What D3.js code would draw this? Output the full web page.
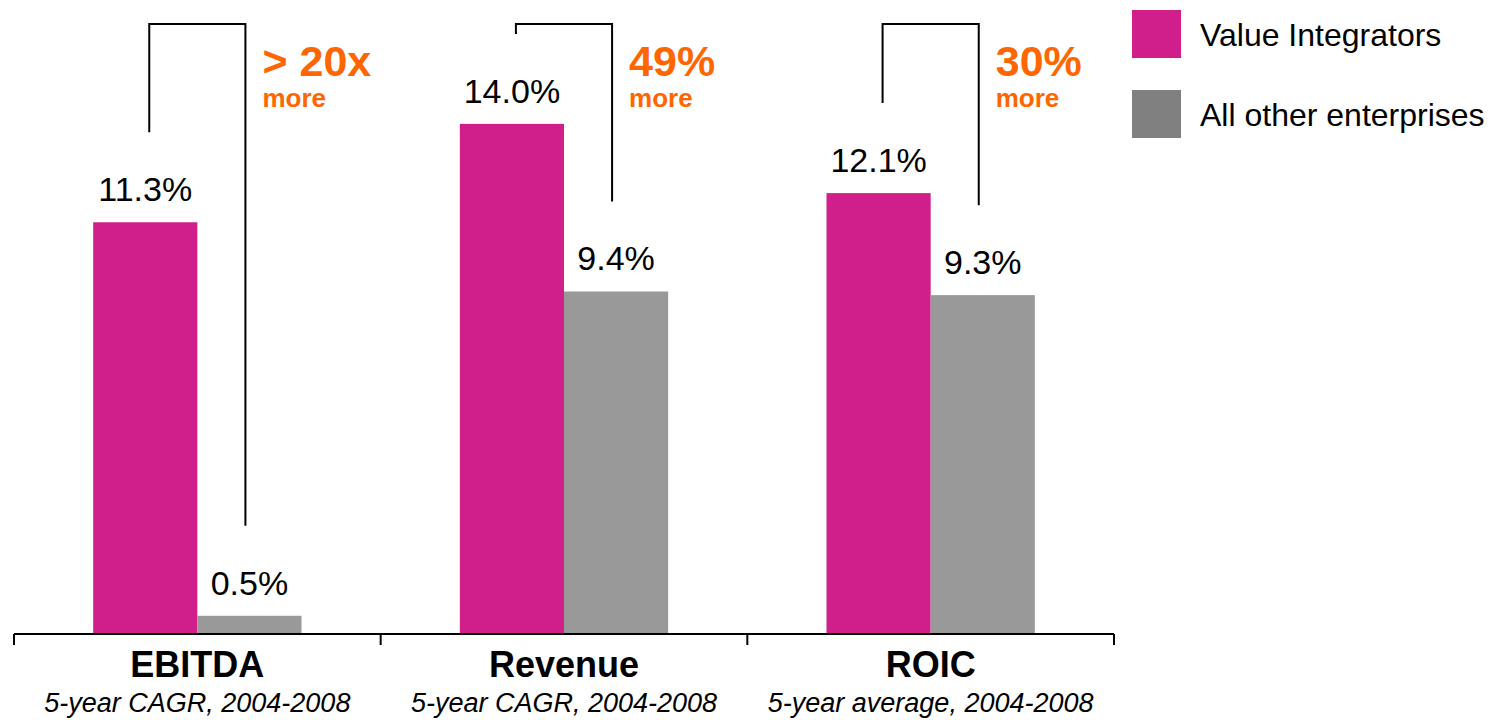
<!DOCTYPE html>
<html>
<head>
<meta charset="utf-8">
<style>
  body { margin: 0; background: #fff; }
  svg { display: block; font-family: "Liberation Sans", Arial, Helvetica, sans-serif; }
</style>
</head>
<body>
<svg width="1497" height="720"></svg>
<script src="https://d3js.org/d3.v7.min.js"></script>
<script>

var categories = ["EBITDA", "Revenue", "ROIC"];
var subtitles = ["5-year CAGR, 2004-2008", "5-year CAGR, 2004-2008", "5-year average, 2004-2008"];
var series = ["Value Integrators", "All other enterprises"];
var integrators = [11.3, 14.0, 12.1];
var others = [0.5, 9.4, 9.3];
var valueLabels = [["11.3%", "0.5%"], ["14.0%", "9.4%"], ["12.1%", "9.3%"]];
var callouts = ["> 20x", "49%", "30%"];

var barColor = ["#d01f8a", "#999999"];
var legendColor = ["#d01f8a", "#808080"];
var orange = "#ff6600";

var svg = d3.select("svg");

var x0 = d3.scaleBand()
    .domain(categories)
    .range([14, 1114])
    .padding(0);

var x1 = d3.scaleBand()
    .domain(series)
    .range([0, x0.bandwidth()])
    .paddingInner(0)
    .paddingOuter(0.76);

var y = d3.scaleLinear()
    .domain([0, 17.4])
    .range([634, 0]);

var rows = categories.map(function(c, i) {
  return { cat: c, sub: subtitles[i], vals: [integrators[i], others[i]], labels: valueLabels[i], callout: callouts[i] };
});

var group = svg.selectAll(".cat")
  .data(rows)
  .enter().append("g")
    .attr("class", "cat")
    .attr("transform", function(d) { return "translate(" + x0(d.cat) + ",0)"; });

group.selectAll("rect")
  .data(function(d) { return d.vals.map(function(v, j) { return { s: series[j], v: v, j: j, label: d.labels[j] }; }); })
  .enter().append("rect")
    .attr("x", function(d) { return x1(d.s); })
    .attr("width", x1.bandwidth())
    .attr("y", function(d) { return y(d.v); })
    .attr("height", function(d) { return y(0) - y(d.v); })
    .attr("fill", function(d) { return barColor[d.j]; });

group.selectAll(".val")
  .data(function(d) { return d.vals.map(function(v, j) { return { s: series[j], v: v, label: d.labels[j] }; }); })
  .enter().append("text")
    .attr("class", "val")
    .attr("x", function(d) { return x1(d.s) + x1.bandwidth() / 2; })
    .attr("y", function(d) { return y(d.v) - 21; })
    .attr("text-anchor", "middle")
    .attr("font-size", 34)
    .attr("fill", "#000")
    .text(function(d) { return d.label; });

// brackets between the two bars of each group
var topY = 24, gap = 90;
group.append("path")
  .attr("fill", "none")
  .attr("stroke", "#000")
  .attr("stroke-width", 2)
  .attr("d", function(d) {
    var xl = x1(series[0]) + x1.bandwidth() / 2 + 4,
        xr = x1(series[1]) + x1.bandwidth() / 2 - 4;
    return "M" + xl + "," + (y(d.vals[0]) - gap) + "V" + topY + "H" + xr + "V" + (y(d.vals[1]) - gap);
  });

group.append("text")
  .attr("x", x1(series[1]) + x1.bandwidth() / 2 + 13)
  .attr("y", 76)
  .attr("font-size", 43)
  .attr("font-weight", "bold")
  .attr("fill", orange)
  .text(function(d) { return d.callout; });

group.append("text")
  .attr("x", x1(series[1]) + x1.bandwidth() / 2 + 13)
  .attr("y", 107)
  .attr("font-size", 26)
  .attr("font-weight", "bold")
  .attr("fill", orange)
  .text("more");

// axis
var axis = svg.append("g")
    .attr("transform", "translate(0," + y(0) + ")");

axis.append("line")
    .attr("x1", x0.range()[0]).attr("x2", x0.range()[1])
    .attr("stroke", "#000").attr("stroke-width", 2);

axis.selectAll(".tick")
  .data(categories.map(function(c) { return x0(c); }).concat([x0.range()[1]]))
  .enter().append("line")
    .attr("x1", function(d) { return d; })
    .attr("x2", function(d) { return d; })
    .attr("y1", 0).attr("y2", 11)
    .attr("stroke", "#000").attr("stroke-width", 2);

group.append("text")
  .attr("x", x0.bandwidth() / 2)
  .attr("y", 677)
  .attr("text-anchor", "middle")
  .attr("font-size", 36)
  .attr("font-weight", "bold")
  .text(function(d) { return d.cat; });

group.append("text")
  .attr("x", x0.bandwidth() / 2)
  .attr("y", 712)
  .attr("text-anchor", "middle")
  .attr("font-size", 27)
  .attr("font-style", "italic")
  .text(function(d) { return d.sub; });

// legend
var legend = svg.selectAll(".legend")
  .data(series)
  .enter().append("g")
    .attr("class", "legend")
    .attr("transform", function(d, i) { return "translate(1132," + (10 + i * 80) + ")"; });

legend.append("rect")
  .attr("width", 49).attr("height", 48)
  .attr("fill", function(d, i) { return legendColor[i]; });

legend.append("text")
  .attr("x", 68)
  .attr("y", 36)
  .attr("font-size", 32)
  .text(function(d) { return d; });

</script>
</body>
</html>
